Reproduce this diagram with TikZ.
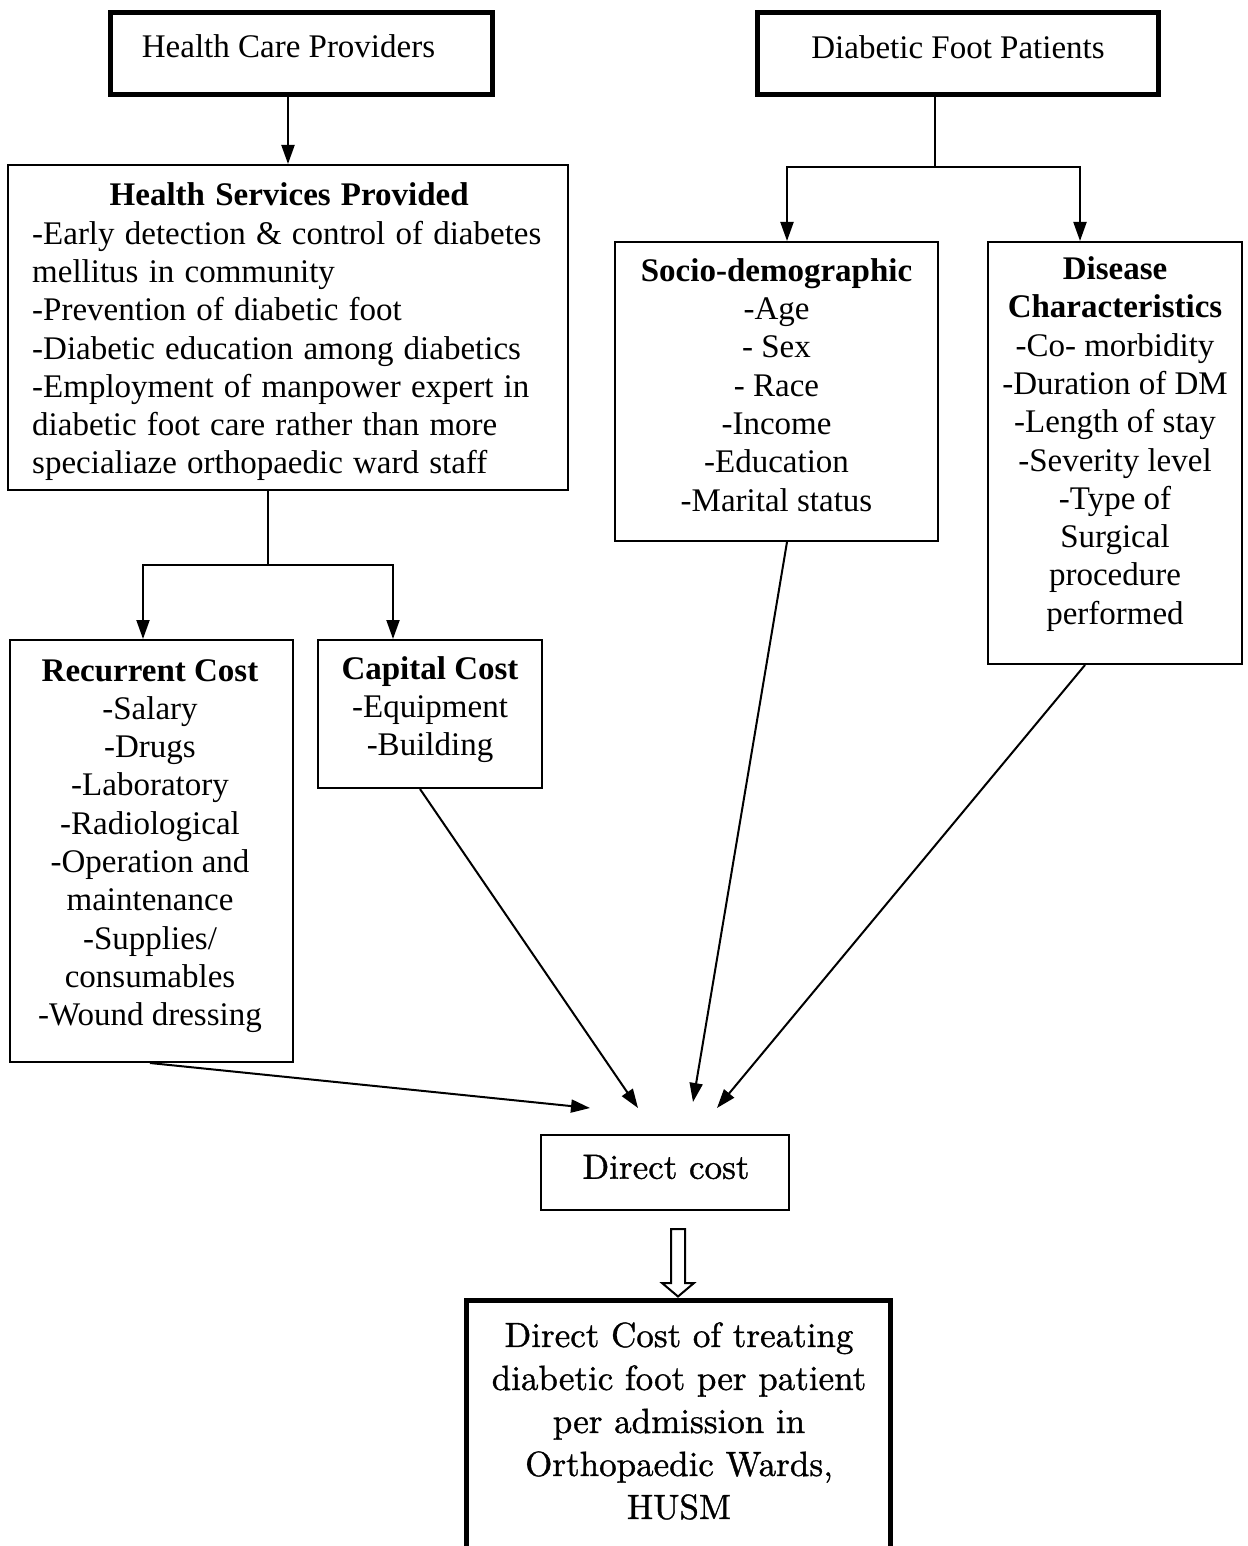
\documentclass[tikz,border=0pt]{standalone}
\usepackage{fontspec}
\setmainfont{Liberation Serif}
\newfontfamily\garfont[Extension=.otf, UprightFont=*-regular, RawFeature={embolden=1.0}]{lmroman10}
\usetikzlibrary{arrows.meta,calc}
\newcommand{\mainsz}{\fontsize{33pt}{38.3pt}\selectfont}
\newcommand{\hspsz}{\mainsz\spaceskip 10.2pt\relax}
\newcommand{\lmsz}{\garfont\fontsize{35pt}{43pt}\selectfont}
\begin{document}
\begin{tikzpicture}[x=1pt,y=-1pt,
  box/.style={draw, line width=2pt, inner sep=0pt},
  tbox/.style={box, line width=5pt},
  txt/.style={inner sep=0pt, align=center, font=\mainsz},
  arr/.style={-{Triangle[length=19pt,width=13pt]}, line width=2pt},
  ln/.style={line width=2pt}]
\useasboundingbox (0,0) rectangle (1247,1546);
\fill[white] (0,0) rectangle (1247,1546);

% top boxes
\node[tbox, minimum width=382pt, minimum height=82pt] (hcp) at (301,54) {};
\node[txt] (hcpt) at (288.5,46) {Health Care Providers};
\node[tbox, minimum width=401pt, minimum height=82pt] (dfp) at (957.5,54) {};
\node[txt] (dfpt) at (958,47) {Diabetic Foot Patients};

% health services
\node[box, minimum width=560pt, minimum height=325pt] (hsp) at (288,327.5) {};
\node[txt, align=left, anchor=west, font=\hspsz] (hspt) at (32,332)
  {\makebox[514pt][c]{\textbf{Health Services Provided}}\\
   -Early detection \& control of diabetes\\
   mellitus in community\\
   -Prevention of diabetic foot\\
   -Diabetic education among diabetics\\
   -Employment of manpower expert in\\
   diabetic foot care rather than more\\
   specialiaze orthopaedic ward staff};

\node[box, minimum width=323pt, minimum height=299pt] (soc) at (776.5,391.5) {};
\node[txt] (soct) at (776.5,385)
  {\textbf{Socio-demographic}\\-Age\\- Sex\\- Race\\-Income\\-Education\\-Marital status};

\node[box, minimum width=254pt, minimum height=422pt] (dis) at (1115,453) {};
\node[txt] (dist) at (1115,444)
  {\textbf{Disease}\\\textbf{Characteristics}\\-Co- morbidity\\-Duration of DM\\-Length of stay\\-Severity level\\-Type of\\Surgical\\procedure\\performed};

\node[box, minimum width=283pt, minimum height=422pt] (rec) at (151.5,851) {};
\node[txt] (rect) at (150,846)
  {\textbf{Recurrent Cost}\\-Salary\\-Drugs\\-Laboratory\\-Radiological\\-Operation and\\maintenance\\-Supplies/\\consumables\\-Wound dressing};

\node[box, minimum width=224pt, minimum height=148pt] (cap) at (430,714) {};
\node[txt] (capt) at (430,709.5)
  {\textbf{Capital Cost}\\-Equipment\\-Building};

\node[box, minimum width=248pt, minimum height=75pt] (dc) at (665,1172.5) {};
\node[txt, font=\lmsz] (dct) at (666,1167) {Direct cost};

\node[tbox, minimum width=424pt, minimum height=254pt] (fin) at (678,1427) {};
\node[txt, font=\lmsz] (fint) at (679,1421)
  {Direct Cost of treating\\diabetic foot per patient\\per admission in\\Orthopaedic Wards,\\HUSM};

% connectors
\draw[arr] (hcp.south -| hsp.north) -- (hsp.north);

\coordinate (j1) at (935,167);
\draw[ln] (dfp.south -| j1) -- (j1);
\draw[arr] (j1) -| ([xshift=10.5pt]soc.north);
\draw[arr] (j1) -| ([xshift=-35pt]dis.north);

\coordinate (j2) at (268,565);
\draw[ln] (hsp.south -| j2) -- (j2);
\draw[arr] (j2) -| ([xshift=-8.5pt]rec.north);
\draw[arr] (j2) -| ([xshift=-37pt]cap.north);

\coordinate (e1) at (590,1108);
\coordinate (e2) at (638,1108);
\coordinate (e3) at (693,1102);
\coordinate (e4) at (717,1108);
\draw[arr] ([xshift=-1.5pt]rec.south) -- (e1);
\draw[arr] ([xshift=-10pt]cap.south) -- (e2);
\draw[arr] ([xshift=10.5pt]soc.south) -- (e3);
\draw[arr] ([xshift=-30pt]dis.south) -- (e4);

% hollow arrow
\draw[line width=2pt, fill=white, line join=miter]
  ($(dc.south)+(6,18)$) -- ++(14,0) -- ++(0,54) -- ++(9,0) -- ($(fin.north)+(0,-1)$)
  -- ($(dc.south)+(-3,72)$) -- ++(9,0) -- cycle;
\end{tikzpicture}
\end{document}
